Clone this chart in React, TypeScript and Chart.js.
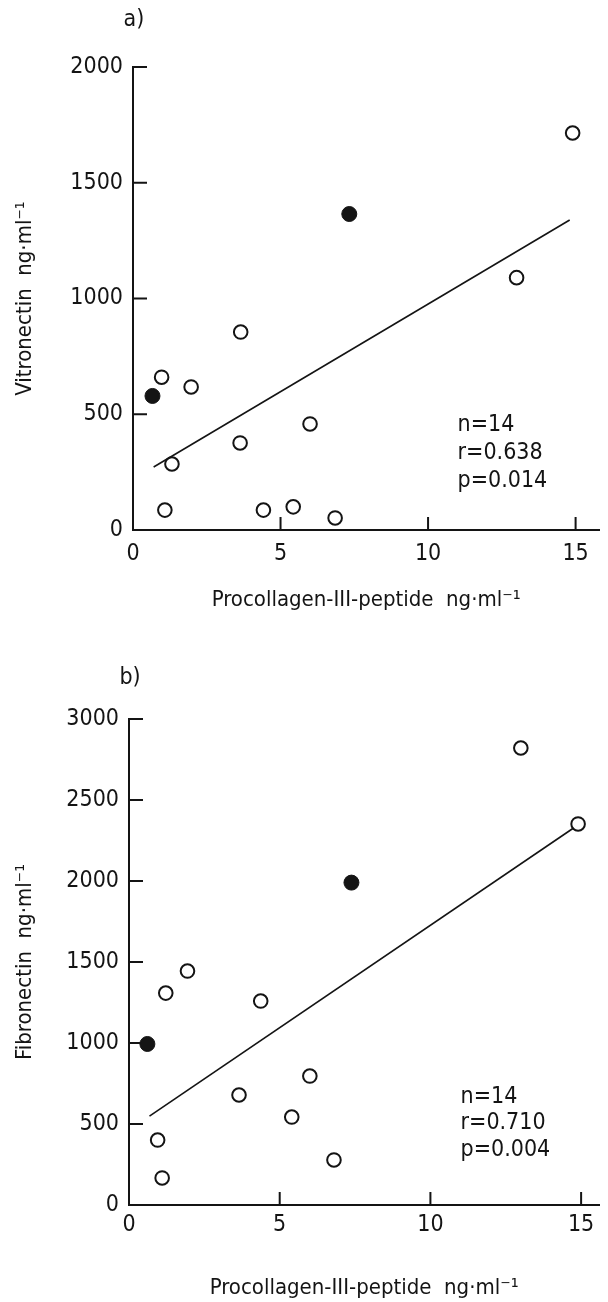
import React, { useEffect, useRef } from 'react';
import { Chart, registerables } from 'chart.js';

Chart.register(...registerables);

const FONT = '"Liberation Sans Narrow", "DejaVu Sans Condensed", "Liberation Sans", Arial, sans-serif';
const INK = '#141414';

// ---- shared ----
const xTicks = [0, 5, 10, 15];
const xTitle = 'Procollagen-III-peptide  ng·ml⁻¹';

// ---- panel a: Vitronectin ----
const aOpenX = [14.9, 13.0, 3.65, 0.97, 1.97, 6.0, 3.63, 1.32, 1.08, 4.42, 5.43, 6.85];
const aOpenY = [1715, 1090, 855, 660, 618, 458, 376, 285, 86, 86, 100, 52];
const aFilledX = [7.33, 0.66];
const aFilledY = [1365, 579];
const aTrendX = [0.7, 14.8];
const aTrendY = [272, 1339];
const aYTicks = [0, 500, 1000, 1500, 2000];
const aStats = ['n=14', 'r=0.638', 'p=0.014'];
const aYTitle = 'Vitronectin  ng·ml⁻¹';

// ---- panel b: Fibronectin ----
const bOpenX = [13.0, 14.9, 1.94, 1.22, 4.37, 6.0, 3.65, 5.4, 0.95, 6.8, 1.1];
const bOpenY = [2821, 2352, 1444, 1308, 1259, 796, 679, 543, 401, 278, 167];
const bFilledX = [7.38, 0.61];
const bFilledY = [1990, 994];
const bTrendX = [0.68, 14.75];
const bTrendY = [549, 2327];
const bYTicks = [0, 500, 1000, 1500, 2000, 2500, 3000];
const bStats = ['n=14', 'r=0.710', 'p=0.004'];
const bYTitle = 'Fibronectin  ng·ml⁻¹';

type PanelCfg = {
  label: string;
  openX: number[]; openY: number[];
  filledX: number[]; filledY: number[];
  trendX: number[]; trendY: number[];
  yTicks: number[];
  stats: string[];
  yTitle: string;
  xMax: number;
  statsX: number; statsY: number; statsGap: number;
  width: number; height: number;
  top: number; right: number;
  yWidth: number; xHeight: number;
  labelY: number;
  xTitlePad: number;
  xTickPad: number;
};

const zip = (xs: number[], ys: number[]) => xs.map((x, i) => ({ x, y: ys[i] }));

function Panel({ cfg, top }: { cfg: PanelCfg; top: number }) {
  const ref = useRef<HTMLCanvasElement | null>(null);
  useEffect(() => {
    if (!ref.current) return;
    const decor = {
      id: 'decor',
      afterDraw(chart: any) {
        const { ctx, chartArea, scales } = chart;
        const x = scales.x, y = scales.y;
        ctx.save();
        ctx.strokeStyle = INK;
        ctx.lineWidth = 2;
        ctx.beginPath();
        for (const v of xTicks) {
          if (v === 0) continue;
          const px = x.getPixelForValue(v);
          ctx.moveTo(px, chartArea.bottom);
          ctx.lineTo(px, chartArea.bottom - 13);
        }
        for (const v of cfg.yTicks) {
          if (v === 0) continue;
          const py = y.getPixelForValue(v);
          ctx.moveTo(chartArea.left, py);
          ctx.lineTo(chartArea.left + 14, py);
        }
        ctx.stroke();
        ctx.fillStyle = INK;
        ctx.font = `23px ${FONT}`;
        ctx.textAlign = 'center';
        ctx.textBaseline = 'middle';
        ctx.fillText(cfg.label, chartArea.left + 1, cfg.labelY);
        ctx.font = `23px ${FONT}`;
        ctx.textAlign = 'left';
        const sx = x.getPixelForValue(cfg.statsX);
        const sy = y.getPixelForValue(cfg.statsY);
        cfg.stats.forEach((s, i) => ctx.fillText(s, sx, sy + i * cfg.statsGap));
        ctx.restore();
      },
    };
    const chart = new Chart(ref.current, {
      type: 'scatter',
      data: {
        datasets: [
          {
            type: 'line',
            data: zip(cfg.trendX, cfg.trendY),
            borderColor: INK,
            borderWidth: 1.6,
            pointRadius: 0,
            showLine: true,
            fill: false,
          } as any,
          {
            data: zip(cfg.openX, cfg.openY),
            pointStyle: 'circle',
            pointRadius: 6.8,
            pointBorderWidth: 2,
            pointBorderColor: INK,
            pointBackgroundColor: '#ffffff',
          },
          {
            data: zip(cfg.filledX, cfg.filledY),
            pointStyle: 'circle',
            pointRadius: 7.5,
            pointBorderWidth: 1,
            pointBorderColor: INK,
            pointBackgroundColor: INK,
          },
        ],
      },
      options: {
        responsive: false,
        animation: false,
        layout: { padding: { top: cfg.top, right: cfg.right, left: 0, bottom: 0 } },
        plugins: { legend: { display: false }, tooltip: { enabled: false } },
        scales: {
          x: {
            type: 'linear',
            min: 0,
            max: cfg.xMax,
            afterBuildTicks: (s: any) => { s.ticks = xTicks.map((v) => ({ value: v })); },
            afterFit: (s: any) => { s.height = cfg.xHeight; },
            grid: { display: false, drawTicks: false },
            border: { display: true, color: INK, width: 2 },
            ticks: {
              color: INK,
              font: { family: FONT, size: 23 },
              padding: cfg.xTickPad,
              maxRotation: 0,
              callback: (v: any) => String(v),
            },
            title: {
              display: true,
              text: xTitle,
              color: INK,
              font: { family: FONT, size: 22 },
              padding: { top: 0, bottom: cfg.xTitlePad },
            },
          },
          y: {
            type: 'linear',
            min: 0,
            max: cfg.yTicks[cfg.yTicks.length - 1],
            afterBuildTicks: (s: any) => { s.ticks = cfg.yTicks.map((v) => ({ value: v })); },
            afterFit: (s: any) => { s.width = cfg.yWidth; },
            grid: { display: false, drawTicks: false },
            border: { display: true, color: INK, width: 2 },
            ticks: {
              color: INK,
              font: { family: FONT, size: 23 },
              padding: 10,
              callback: (v: any) => String(v),
            },
            title: {
              display: true,
              text: cfg.yTitle,
              color: INK,
              font: { family: FONT, size: 22 },
              padding: { top: 12, bottom: 0 },
            },
          },
        },
      },
      plugins: [decor],
    } as any);
    return () => chart.destroy();
  }, [cfg]);
  return (
    <canvas
      ref={ref}
      width={cfg.width}
      height={cfg.height}
      style={{ position: 'absolute', left: 0, top, width: cfg.width, height: cfg.height }}
    />
  );
}

const cfgA: PanelCfg = {
  label: 'a)',
  openX: aOpenX, openY: aOpenY,
  filledX: aFilledX, filledY: aFilledY,
  trendX: aTrendX, trendY: aTrendY,
  yTicks: aYTicks, stats: aStats, yTitle: aYTitle,
  xMax: 15.8, statsX: 11, statsY: 453, statsGap: 28,
  width: 608, height: 640,
  top: 67, right: 3, yWidth: 133, xHeight: 110,
  labelY: 20, xTitlePad: 27, xTickPad: 10,
};

const cfgB: PanelCfg = {
  label: 'b)',
  openX: bOpenX, openY: bOpenY,
  filledX: bFilledX, filledY: bFilledY,
  trendX: bTrendX, trendY: bTrendY,
  yTicks: bYTicks, stats: bStats, yTitle: bYTitle,
  xMax: 15.6, statsX: 11, statsY: 667, statsGap: 26.5,
  width: 608, height: 662,
  top: 79, right: 2, yWidth: 129, xHeight: 97,
  labelY: 38, xTitlePad: 1, xTickPad: 6,
};

export default function App() {
  return (
    <div style={{ position: 'absolute', left: 0, top: 0, width: 608, height: 1302, background: '#fff' }}>
      <Panel cfg={cfgA} top={0} />
      <Panel cfg={cfgB} top={640} />
    </div>
  );
}
